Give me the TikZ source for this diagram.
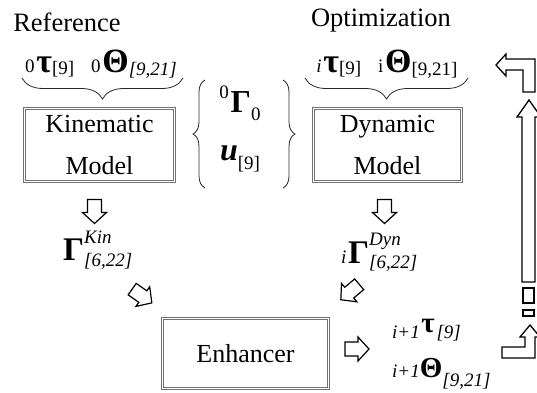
\documentclass[tikz,border=0pt]{standalone}
\usepackage{fontspec}
\setmainfont{Liberation Serif}
\usetikzlibrary{decorations.pathreplacing}
\newcommand{\smf}{\fontsize{19}{19}\selectfont}
\newcommand{\bgf}{\fontsize{34}{34}\selectfont\bfseries}
\newcommand{\mdf}{\fontsize{32}{32}\selectfont\bfseries}
\newcommand{\bgg}{\fontsize{29}{29}\selectfont\bfseries}
\newcommand{\hgf}{\fontsize{33}{33}\selectfont\bfseries}
\newcommand{\blockarrow}[3]{\draw[barrow, shift={(#1,#2)}, rotate=#3] (-12,-7) -- (1,-7) -- (1,-12) -- (12,0) -- (1,12) -- (1,7) -- (-12,7) -- cycle;}
\tikzset{
  blk/.style={draw=black!55, double=white, double distance=1.6pt, line width=0.7pt, inner sep=0pt, align=center, font=\fontsize{26}{42}\selectfont},
  lbl/.style={inner sep=0pt},
  hdr/.style={inner sep=0pt, font=\fontsize{26.5}{26}\selectfont},
  barrow/.style={draw=black, line width=1.2pt, fill=white, line join=miter},
  bigarrow/.style={draw=black, line width=1.3pt, fill=white, line join=miter},
  brc/.style={draw=black!85, line width=0.8pt, decorate},
}
\begin{document}
\begin{tikzpicture}[x=1pt,y=-1pt]
\useasboundingbox (0,0) rectangle (537,392);
\clip (0,0) rectangle (537,392);
% headers
\node[hdr] (ref) at (67,22) {Reference};
\node[hdr] (opt) at (381,21) {Optimization};
% top labels
\node[lbl, anchor=base] (tl) at (101,72) {{\smf 0}\,{\bgf τ}\raisebox{-2pt}{\smf[9]}\hspace{17pt}{\smf 0}\,{\bgf Θ}\raisebox{-3pt}{\smf\itshape[9,21]}};
\node[lbl, anchor=base] (tr) at (387,72) {{\smf\itshape i}\,{\bgf τ}\raisebox{-2pt}{\smf[9]}\hspace{17pt}{\smf i}\,{\bgf Θ}\raisebox{-3pt}{\smf[9,21]}};
\draw[brc, decoration={brace, amplitude=21pt, mirror}] (22,78) -- (183,78);
\draw[brc, decoration={brace, amplitude=21pt, mirror}] (305,78) -- (468,78);
% boxes
\node[blk, minimum width=150pt, minimum height=73pt] (kin) at (99.5,145) {Kinematic\\Model};
\node[blk, minimum width=148pt, minimum height=73pt] (dyn) at (387.5,145) {Dynamic\\Model};
\node[blk, minimum width=166pt, minimum height=70pt] (enh) at (245.5,353.5) {Enhancer};
% middle braces and labels
\draw[brc, decoration={brace, amplitude=12pt}] (205,188) -- (205,80);
\draw[brc, decoration={brace, amplitude=12pt}] (283,80) -- (283,188);
\node[lbl, anchor=base] (g0) at (240,112) {\raisebox{14pt}{\smf 0}\,{\mdf Γ}\raisebox{-8pt}{\smf 0}};
\node[lbl, anchor=base] (u9) at (240,160) {{\mdf\itshape u}\raisebox{-9pt}{\smf[9]}};
% Gamma labels
\node[lbl, anchor=base west] (gk) at (63,260) {{\hgf Γ}\raisebox{17pt}{\rlap{\smf\itshape Kin}}\raisebox{-6pt}{\smf\itshape[6,22]}};
\node[lbl, anchor=base west] (gd) at (341,263) {{\smf\itshape i}\,{\hgf Γ}\raisebox{18pt}{\rlap{\smf\itshape Dyn}}\raisebox{-5pt}{\smf\itshape[6,22]}};
% outputs
\node[lbl, anchor=base west] (ot) at (392,338) {{\smf\itshape i+1}\,\raisebox{6pt}{\bgg τ}\,{\smf\itshape[9]}};
\node[lbl, anchor=base west] (oth) at (392,377) {{\smf\itshape i+1}{\bgg Θ}\raisebox{-9pt}{\smf\itshape[9,21]}};
% small block arrows
\blockarrow{94.5}{211.5}{-90}
\blockarrow{384.5}{211.5}{-90}
\blockarrow{142}{296}{-35}
\blockarrow{350}{292}{-140}
\blockarrow{357}{349}{0}
% big right-side arrows
\draw[bigarrow] (496,65) -- (506,54) -- (506,59) -- (535,59) -- (535,92) -- (523,92) -- (523,70) -- (506,70) -- (506,76) -- cycle;
\draw[bigarrow] (529,100) -- (541,117) -- (535,117) -- (535,282) -- (522,282) -- (522,117) -- (517,117) -- cycle;
\draw[bigarrow] (523,288) rectangle (534,303);
\draw[bigarrow] (523,310) rectangle (534,316);
\draw[bigarrow] (530,325) -- (540,337) -- (535,337) -- (535,358) -- (502,358) -- (502,347) -- (525,347) -- (525,337) -- (520,337) -- cycle;
\end{tikzpicture}
\end{document}
